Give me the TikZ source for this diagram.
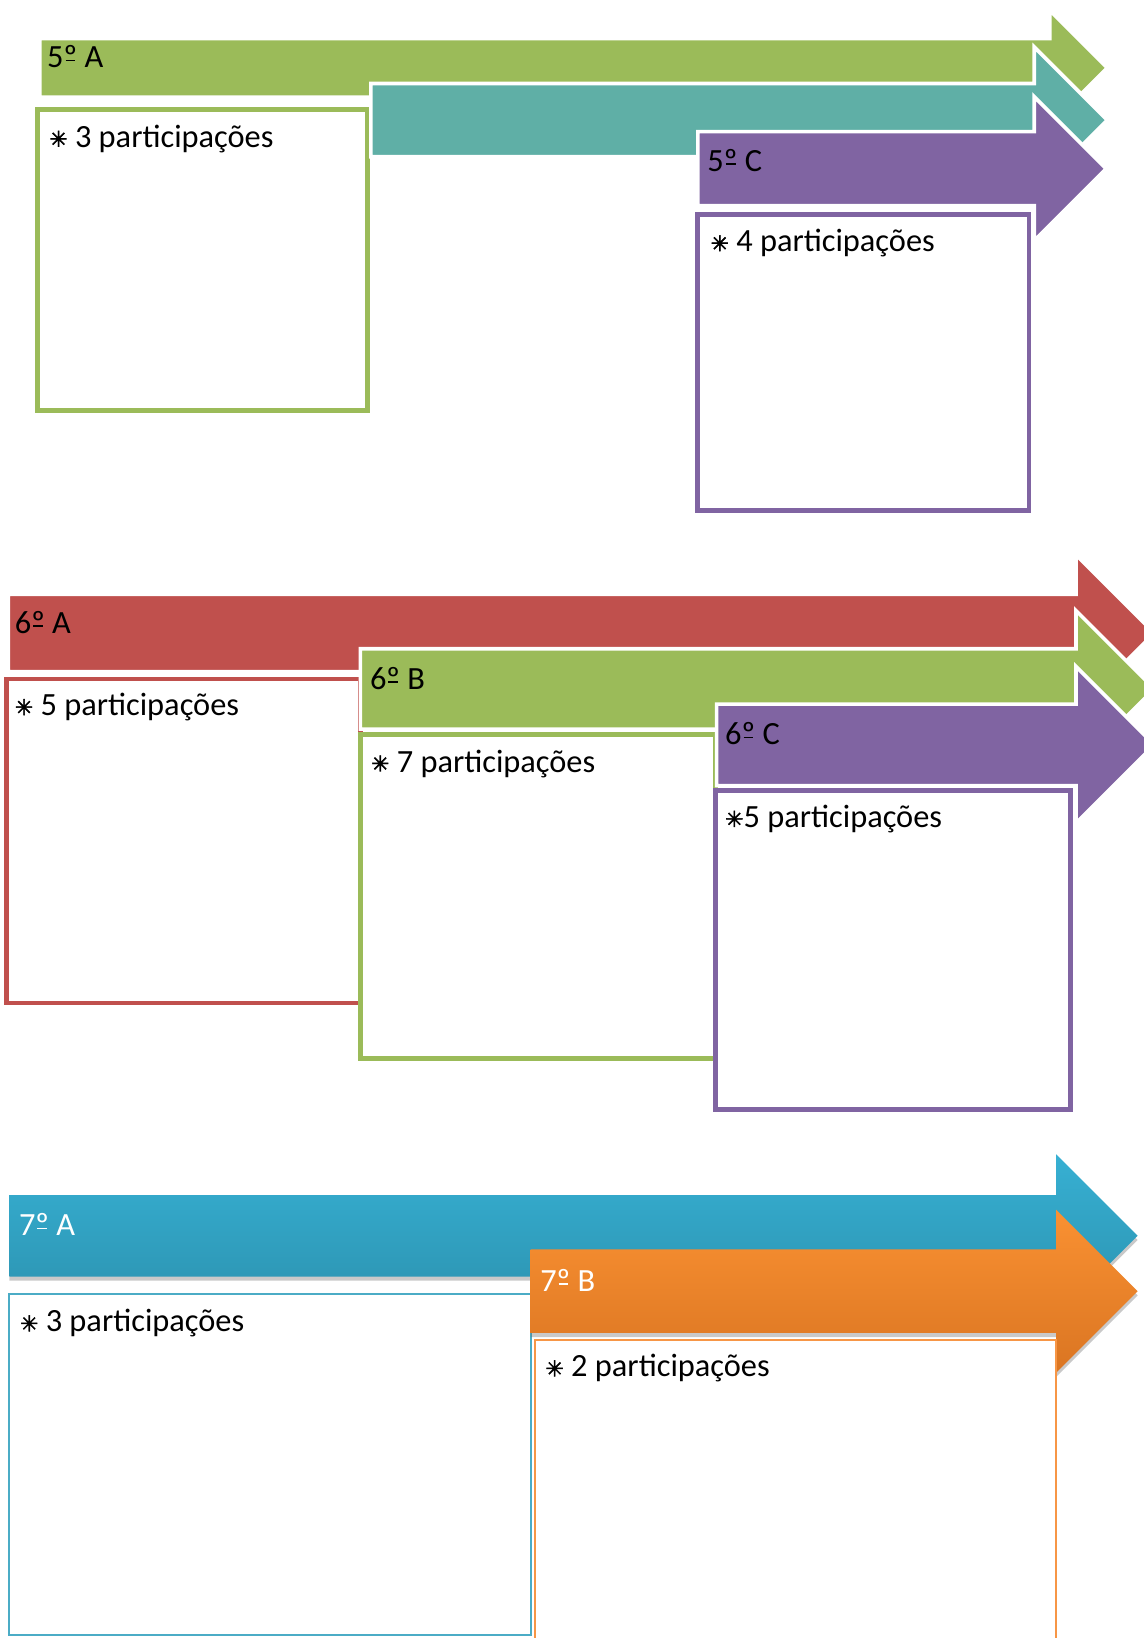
\documentclass[tikz,border=0pt]{standalone}
\usepackage{fontspec}
\setmainfont{Carlito}
\newfontfamily\dejavu{DejaVu Sans}[FakeBold=2]
\usetikzlibrary{shadows}
\definecolor{cgreen}{HTML}{9BBB59}
\definecolor{cteal}{HTML}{5FAFA6}
\definecolor{cpurple}{HTML}{8064A2}
\definecolor{cred}{HTML}{C0504D}
\definecolor{cbluet}{HTML}{37B0D3}
\definecolor{cblueb}{HTML}{2B91AE}
\definecolor{corat}{HTML}{FA9132}
\definecolor{corab}{HTML}{DA7522}
\definecolor{cbluebox}{HTML}{4BACC6}
\definecolor{corabox}{HTML}{F79646}
% #1 style, #2 x0, #3 ytop, #4 ybottom, #5 x head, #6 head half height
\newcommand{\flatarrow}[6]{%
  \path[#1] (#2,#3) -- (#5,#3) -- (#5,{(#3+#4)/2-#6}) -- ({#5+#6},{(#3+#4)/2})
    -- (#5,{(#3+#4)/2+#6}) -- (#5,#4) -- (#2,#4) -- cycle;}
\newcommand{\bul}{{\dejavu\bfseries\fontsize{21}{21}\selectfont\raisebox{0.5pt}{✳}}}
\newcommand{\ordo}{\ooalign{º\cr\hidewidth\rule[0.2em]{0.3em}{0.055em}\hidewidth\cr}}
\tikzset{
  arrowflat/.style={fill=#1, draw=white, line width=3.5pt, line join=miter},
  arrowshade/.style 2 args={top color=#1, bottom color=#2, draw=none,
     drop shadow={shadow xshift=0pt, shadow yshift=-4pt, opacity=0.35, fill=black!60}},
  boxthick/.style={draw=#1, line width=4.5pt, fill=white},
  boxthin/.style={draw=#1, line width=2pt, fill=white},
  lbl/.style={font=\fontsize{31}{37}\selectfont, inner sep=0pt, anchor=base west, text=black},
  lblw/.style={lbl, text=white},
}
\begin{document}
\begin{tikzpicture}[x=1pt, y=-1pt]
\useasboundingbox (0,0) rectangle (1095,1568);
\clip (0,0) rectangle (1095,1568);
\fill[white] (0,0) rectangle (1095,1568);
% ---------- 5º ----------
\flatarrow{arrowflat=cgreen}{38}{37}{93}{1005}{55}
\path[boxthick=cgreen] (36,105) rectangle (352,393);
\node[lbl] (t5a) at (45,65) {5\ordo{} A};
\node[lbl] (p5a) at (47,141) {\bul\ 3 participações};
\flatarrow{arrowflat=cteal}{355}{80}{150}{990}{70}
\flatarrow{arrowflat=cpurple}{668}{126}{197}{990}{69}
\path[boxthick=cpurple] (668,205) rectangle (985,489);
\node[lbl] (t5c) at (677,164) {5\ordo{} C};
\node[lbl] (p5c) at (680,241) {\bul\ 4 participações};
% ---------- 6º ----------
\flatarrow{arrowflat=cred}{8}{569}{643}{1030}{75}
\path[boxthick=cred] (6,650) rectangle (345,960);
\node[lbl] (t6a) at (14,606) {6\ordo{} A};
\node[lbl] (p6a) at (14,685) {\bul\ 5 participações};
\flatarrow{arrowflat=cgreen}{345}{621}{698}{1030}{75}
\path[boxthick=cgreen] (345,703) rectangle (685,1013);
\node[lbl] (t6b) at (354,660) {6\ordo{} B};
\node[lbl] (p6b) at (355,739) {\bul\ 7 participações};
\flatarrow{arrowflat=cpurple}{686}{674}{752}{1030}{75}
\path[boxthick=cpurple] (685,757) rectangle (1025,1062);
\node[lbl] (t6c) at (694,713) {6\ordo{} C};
\node[lbl] (p6c) at (694,792) {\bul5 participações};
% ---------- 7º ----------
\flatarrow{arrowshade={cbluet}{cblueb}}{9}{1144}{1222}{1011}{78}
\path[boxthin=cbluebox] (9,1239) rectangle (508,1565);
\node[lblw] (t7a) at (18,1183) {7\ordo{} A};
\node[lbl] (p7a) at (19,1275) {\bul\ 3 participações};
\flatarrow{arrowshade={corat}{corab}}{508}{1196}{1276}{1011}{78}
\path[boxthin=corabox] (512,1283) rectangle (1011,1590);
\node[lblw] (t7b) at (517,1236) {7\ordo{} B};
\node[lbl] (p7b) at (522,1318) {\bul\ 2 participações};
\end{tikzpicture}
\end{document}
